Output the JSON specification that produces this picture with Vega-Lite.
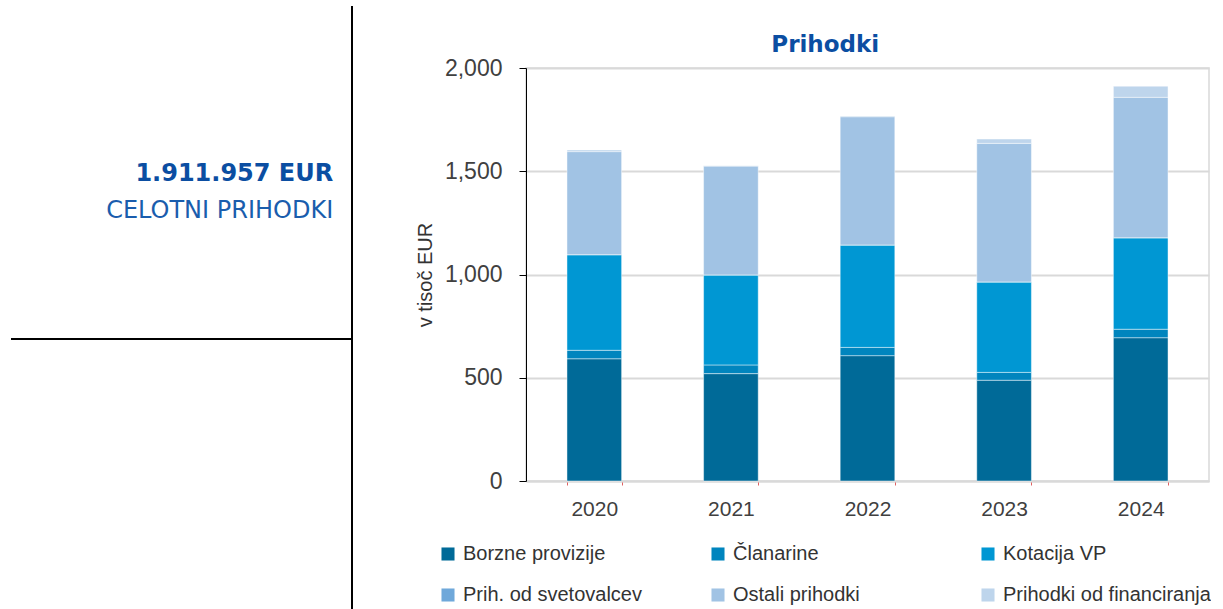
{
  "$schema": "https://vega.github.io/schema/vega-lite/v6.json",
  "padding": {"left": 10, "top": 5, "right": 0, "bottom": 0},
  "background": "white",
  "config": {"view": {"stroke": null}, "font": "Liberation Sans"},
  "spacing": 174,
  "bounds": "flush",
  "hconcat": [
    {
      "width": 341,
      "height": 413,
      "layer": [
        {
          "data": {"values": [{"t": "1.911.957 EUR"}]},
          "mark": {"type": "text", "align": "right", "baseline": "alphabetic", "font": "DejaVu Sans", "fontWeight": "bold", "fontSize": 24, "color": "#0B4EA2"},
          "encoding": {
            "text": {"field": "t"},
            "x": {"datum": 0.945, "type": "quantitative", "scale": {"domain": [0, 1]}, "axis": null},
            "y": {"datum": 0.726, "type": "quantitative", "scale": {"domain": [0, 1]}, "axis": null}
          }
        },
        {
          "data": {"values": [{"t": "CELOTNI PRIHODKI"}]},
          "mark": {"type": "text", "align": "right", "baseline": "alphabetic", "font": "DejaVu Sans", "fontWeight": "normal", "fontSize": 24, "color": "#1A5DAD"},
          "encoding": {
            "text": {"field": "t"},
            "x": {"datum": 0.945, "type": "quantitative", "scale": {"domain": [0, 1]}, "axis": null},
            "y": {"datum": 0.637, "type": "quantitative", "scale": {"domain": [0, 1]}, "axis": null}
          }
        },
        {
          "data": {"values": [{"k": "h"}]},
          "mark": {"type": "rule", "color": "#000000", "strokeWidth": 2},
          "encoding": {
            "x": {"datum": 0, "type": "quantitative", "scale": {"domain": [0, 1]}, "axis": null},
            "x2": {"datum": 1},
            "y": {"datum": 0.344, "type": "quantitative", "scale": {"domain": [0, 1]}, "axis": null}
          }
        },
        {
          "data": {"values": [{"k": "v"}]},
          "mark": {"type": "rule", "color": "#000000", "strokeWidth": 2},
          "encoding": {
            "x": {"datum": 1, "type": "quantitative", "scale": {"domain": [0, 1]}, "axis": null},
            "y": {"datum": 1.15, "type": "quantitative", "scale": {"domain": [0, 1]}, "axis": null},
            "y2": {"datum": -0.312}
          }
        }
      ]
    },
    {
      "width": 683,
      "height": 413,
      "view": {"stroke": "#d9d9d9", "strokeWidth": 1.5},
      "title": {"text": "Prihodki", "font": "DejaVu Sans", "fontSize": 23, "fontWeight": "bold", "color": "#0B4EA2", "frame": "bounds", "offset": 10, "dx": 13, "dy": 10},
      "data": {
        "values": [
          {"leto": "2020", "vrsta": "Borzne provizije", "idx": 1, "vrednost": 592},
          {"leto": "2020", "vrsta": "Članarine", "idx": 2, "vrednost": 41},
          {"leto": "2020", "vrsta": "Kotacija VP", "idx": 3, "vrednost": 463},
          {"leto": "2020", "vrsta": "Prih. od svetovalcev", "idx": 4, "vrednost": 0},
          {"leto": "2020", "vrsta": "Ostali prihodki", "idx": 5, "vrednost": 499},
          {"leto": "2020", "vrsta": "Prihodki od financiranja", "idx": 6, "vrednost": 8},
          {"leto": "2021", "vrsta": "Borzne provizije", "idx": 1, "vrednost": 520},
          {"leto": "2021", "vrsta": "Članarine", "idx": 2, "vrednost": 42},
          {"leto": "2021", "vrsta": "Kotacija VP", "idx": 3, "vrednost": 436},
          {"leto": "2021", "vrsta": "Prih. od svetovalcev", "idx": 4, "vrednost": 0},
          {"leto": "2021", "vrsta": "Ostali prihodki", "idx": 5, "vrednost": 527},
          {"leto": "2021", "vrsta": "Prihodki od financiranja", "idx": 6, "vrednost": 2},
          {"leto": "2022", "vrsta": "Borzne provizije", "idx": 1, "vrednost": 607},
          {"leto": "2022", "vrsta": "Članarine", "idx": 2, "vrednost": 40},
          {"leto": "2022", "vrsta": "Kotacija VP", "idx": 3, "vrednost": 496},
          {"leto": "2022", "vrsta": "Prih. od svetovalcev", "idx": 4, "vrednost": 0},
          {"leto": "2022", "vrsta": "Ostali prihodki", "idx": 5, "vrednost": 621},
          {"leto": "2022", "vrsta": "Prihodki od financiranja", "idx": 6, "vrednost": 4},
          {"leto": "2023", "vrsta": "Borzne provizije", "idx": 1, "vrednost": 488},
          {"leto": "2023", "vrsta": "Članarine", "idx": 2, "vrednost": 38},
          {"leto": "2023", "vrsta": "Kotacija VP", "idx": 3, "vrednost": 438},
          {"leto": "2023", "vrsta": "Prih. od svetovalcev", "idx": 4, "vrednost": 0},
          {"leto": "2023", "vrsta": "Ostali prihodki", "idx": 5, "vrednost": 671},
          {"leto": "2023", "vrsta": "Prihodki od financiranja", "idx": 6, "vrednost": 21},
          {"leto": "2024", "vrsta": "Borzne provizije", "idx": 1, "vrednost": 694},
          {"leto": "2024", "vrsta": "Članarine", "idx": 2, "vrednost": 41},
          {"leto": "2024", "vrsta": "Kotacija VP", "idx": 3, "vrednost": 443},
          {"leto": "2024", "vrsta": "Prih. od svetovalcev", "idx": 4, "vrednost": 0},
          {"leto": "2024", "vrsta": "Ostali prihodki", "idx": 5, "vrednost": 680},
          {"leto": "2024", "vrsta": "Prihodki od financiranja", "idx": 6, "vrednost": 54}
        ]
      },
      "mark": {"type": "bar", "stroke": "#ffffff", "strokeWidth": 1, "strokeOpacity": 0.45},
      "encoding": {
        "x": {
          "field": "leto", "type": "nominal",
          "scale": {"paddingInner": 0.6, "paddingOuter": 0.3},
          "axis": {"title": null, "labelAngle": 0, "labelFontSize": 21, "labelColor": "#404040", "labelPadding": 13, "tickBand": "extent", "tickColor": "#e06060", "tickSize": 4, "domainColor": "#d9d9d9", "domainWidth": 2}
        },
        "y": {
          "field": "vrednost", "type": "quantitative", "stack": "zero",
          "scale": {"domain": [0, 2000], "nice": false},
          "axis": {"values": [0, 500, 1000, 1500, 2000], "format": ",.0f", "title": "v tisoč EUR", "titleFontSize": 20, "titleFontWeight": "normal", "titleColor": "#333333", "titlePadding": 9, "labelFontSize": 23, "labelColor": "#404040", "labelPadding": 17, "tickSize": 7, "tickColor": "#000000", "domainColor": "#000000", "gridColor": "#d9d9d9", "gridWidth": 2}
        },
        "color": {
          "field": "vrsta", "type": "nominal",
          "sort": ["Borzne provizije", "Članarine", "Kotacija VP", "Prih. od svetovalcev", "Ostali prihodki", "Prihodki od financiranja"],
          "scale": {
            "domain": ["Borzne provizije", "Članarine", "Kotacija VP", "Prih. od svetovalcev", "Ostali prihodki", "Prihodki od financiranja"],
            "range": ["#006A98", "#0085BE", "#0097D3", "#6FA8DA", "#A1C3E4", "#BED5EC"]
          },
          "legend": {"title": null, "orient": "none", "legendX": 427, "legendY": 476, "direction": "horizontal", "columns": 3, "gridAlign": "all", "symbolType": "square", "symbolSize": 170, "symbolStrokeWidth": 0, "labelFontSize": 20, "labelColor": "#333333", "columnPadding": 37, "rowPadding": 21, "labelOffset": 5, "padding": 0, "labelLimit": 300}
        },
        "order": {"field": "idx", "type": "quantitative"}
      }
    }
  ]
}
